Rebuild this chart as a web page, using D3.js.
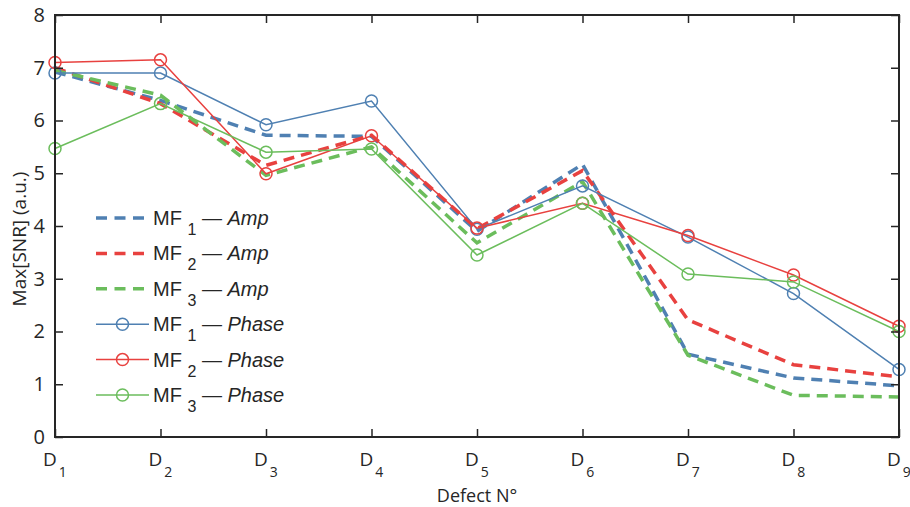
<!DOCTYPE html>
<html>
<head>
<meta charset="utf-8">
<script src="https://cdn.jsdelivr.net/npm/d3@7"></script>
<style>
  body { margin: 0; background: #fff; }
  text { font-family: "Open Sans", "Liberation Sans", sans-serif; fill: #262626; }
</style>
</head>
<body>
<div id="chart"></div>
<script>
// defects on the x axis
const defects = ["1", "2", "3", "4", "5", "6", "7", "8", "9"];
const yTicks = [0, 1, 2, 3, 4, 5, 6, 7, 8];

// amplitude series (dashed)
const ampMF1 = [6.92, 6.38, 5.72, 5.70, 3.90, 5.17, 1.57, 1.12, 0.97];
const ampMF2 = [7.00, 6.32, 5.15, 5.72, 3.95, 5.05, 2.22, 1.37, 1.14];
const ampMF3 = [6.95, 6.48, 4.96, 5.50, 3.68, 4.84, 1.55, 0.79, 0.76];

// phase series (solid with circles)
const phaseMF1 = [6.90, 6.90, 5.92, 6.37, 3.94, 4.76, 3.79, 2.72, 1.28];
const phaseMF2 = [7.10, 7.15, 4.99, 5.71, 3.96, 4.43, 3.82, 3.07, 2.10];
const phaseMF3 = [5.47, 6.32, 5.40, 5.46, 3.45, 4.43, 3.09, 2.94, 2.00];

const blue = "#4f80b2", red = "#e8413f", green = "#6bbd5c";

const series = [
  {mf: "1", kind: "Amp", values: ampMF1, color: blue, dashed: true},
  {mf: "2", kind: "Amp", values: ampMF2, color: red, dashed: true},
  {mf: "3", kind: "Amp", values: ampMF3, color: green, dashed: true},
  {mf: "1", kind: "Phase", values: phaseMF1, color: blue, dashed: false},
  {mf: "2", kind: "Phase", values: phaseMF2, color: red, dashed: false},
  {mf: "3", kind: "Phase", values: phaseMF3, color: green, dashed: false}
];

const W = 910, H = 507;
const margin = {left: 55, right: 11, top: 15, bottom: 70};

const svg = d3.select("#chart").append("svg")
  .attr("width", W).attr("height", H);

const x = d3.scalePoint().domain(defects).range([margin.left, W - margin.right]);
const y = d3.scaleLinear().domain([0, 8]).range([H - margin.bottom, margin.top]);

const axisColor = "#262626";
const tickLen = 8;

const line = d3.line().x((d, i) => x(defects[i])).y(d => y(d));

// data lines, in legend order
series.forEach(function(s) {
  svg.append("path")
    .datum(s.values)
    .attr("d", line)
    .attr("fill", "none")
    .attr("stroke", s.color)
    .attr("stroke-width", s.dashed ? 3.5 : 1.5)
    .attr("stroke-dasharray", s.dashed ? "11,7" : null);
  if (!s.dashed) {
    svg.selectAll(null)
      .data(s.values)
      .enter().append("circle")
      .attr("cx", (d, i) => x(defects[i]))
      .attr("cy", d => y(d))
      .attr("r", 6)
      .attr("fill", "none")
      .attr("stroke", s.color)
      .attr("stroke-width", 1.5);
  }
});

// box
const x0 = margin.left, x1 = W - margin.right;
const y0 = H - margin.bottom, y1 = margin.top;
svg.append("rect")
  .attr("x", x0).attr("y", y1)
  .attr("width", x1 - x0).attr("height", y0 - y1)
  .attr("fill", "none").attr("stroke", axisColor).attr("stroke-width", 2);

// x axis with inward ticks
const gx = svg.append("g").attr("transform", "translate(0," + y0 + ")")
  .call(d3.axisBottom(x).tickSizeInner(-tickLen).tickSizeOuter(0).tickFormat(""));
gx.select(".domain").remove();
gx.selectAll(".tick line").attr("stroke", axisColor).attr("stroke-width", 1.5);

const gxTop = svg.append("g").attr("transform", "translate(0," + y1 + ")")
  .call(d3.axisTop(x).tickSizeInner(-tickLen).tickSizeOuter(0).tickFormat(""));
gxTop.select(".domain").remove();
gxTop.selectAll(".tick line").attr("stroke", axisColor).attr("stroke-width", 1.5);

// x tick labels D with subscript
const xl = svg.append("g");
defects.forEach(function(d) {
  const t = xl.append("text")
    .attr("x", x(d) - 12).attr("y", y0 + 29)
    .style("font-size", "19px");
  t.append("tspan").text("D");
  t.append("tspan").attr("dx", 2).attr("dy", 11).style("font-size", "14px").text(d);
});

// y axis
const gy = svg.append("g").attr("transform", "translate(" + x0 + ",0)")
  .call(d3.axisLeft(y).tickValues(yTicks).tickSizeInner(-tickLen).tickSizeOuter(0).tickPadding(10).tickFormat(d3.format("d")));
gy.select(".domain").remove();
gy.selectAll(".tick line").attr("stroke", axisColor).attr("stroke-width", 1.5);
gy.selectAll(".tick text").style("font-size", "20px").attr("fill", axisColor)
  .style("font-family", "'Open Sans', sans-serif");

const gyR = svg.append("g").attr("transform", "translate(" + x1 + ",0)")
  .call(d3.axisRight(y).tickValues(yTicks).tickSizeInner(-tickLen).tickSizeOuter(0).tickFormat(""));
gyR.select(".domain").remove();
gyR.selectAll(".tick line").attr("stroke", axisColor).attr("stroke-width", 1.5);

// axis titles
svg.append("text")
  .attr("x", (x0 + x1) / 2).attr("y", 502)
  .attr("text-anchor", "middle")
  .style("font-size", "18px")
  .text("Defect N°");

svg.append("text")
  .attr("transform", "translate(26,239) rotate(-90)")
  .attr("text-anchor", "middle")
  .style("font-size", "19px")
  .text("Max[SNR] (a.u.)");

// legend
const legend = svg.append("g");
series.forEach(function(s, i) {
  const ly = 218 + i * 35.4;
  legend.append("line")
    .attr("x1", 96).attr("x2", 149)
    .attr("y1", ly).attr("y2", ly)
    .attr("stroke", s.color)
    .attr("stroke-width", s.dashed ? 3.5 : 1.5)
    .attr("stroke-dasharray", s.dashed ? "11,7.5" : null);
  if (!s.dashed) {
    legend.append("circle")
      .attr("cx", 122.5).attr("cy", ly).attr("r", 6)
      .attr("fill", "none").attr("stroke", s.color).attr("stroke-width", 1.5);
  }
  const t = legend.append("text")
    .attr("x", 153).attr("y", ly + 7)
    .style("font-family", "'Liberation Sans', Arial, sans-serif")
    .style("font-size", "20px")
    .attr("fill", "#000");
  t.append("tspan").text("MF ");
  t.append("tspan").attr("dy", 10).style("font-size", "16px").text(s.mf);
  t.append("tspan").attr("dy", -10).text(" \u2014 ");
  t.append("tspan").style("font-style", "italic").text(s.kind);
});
</script>
</body>
</html>
